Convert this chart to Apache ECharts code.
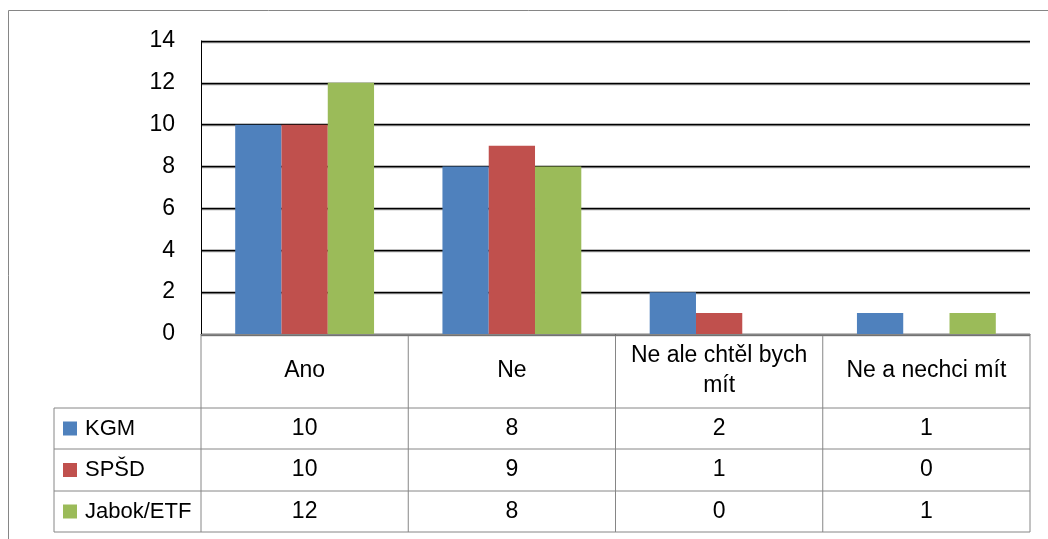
<!DOCTYPE html>
<html><head><meta charset="utf-8">
<script src="https://cdn.jsdelivr.net/npm/echarts@6/dist/echarts.min.js"></script>
<style>html,body{margin:0;padding:0;background:#fff}#c{width:1048px;height:539px}</style>
</head><body><div id="c"></div>
<script>
const categories = ['Ano', 'Ne', 'Ne ale chtěl bych\nmít', 'Ne a nechci mít'];
const seriesNames = ['KGM', 'SPŠD', 'Jabok/ETF'];
const kgm = [10, 8, 2, 1];
const spsd = [10, 9, 1, 0];
const jabok = [12, 8, 0, 1];
const yTicks = { min: 0, max: 14, interval: 2 };

const colors = ['#4F81BD', '#C0504D', '#9BBB59'];
const seriesData = [kgm, spsd, jabok];
const FONT = 'Liberation Sans';
const FS = 23;
const gridL = 201, gridR = 1030, gridT = 41, gridB = 334;
const rowLines = [408, 449, 491, 532];
const tableGray = '#868686';

const chart = echarts.init(document.getElementById('c'));

const xAxes = [{
  type: 'category', data: categories, gridIndex: 0, position: 'bottom',
  axisLine: { show: true, lineStyle: { color: tableGray, width: 1 } },
  axisTick: { show: false },
  axisLabel: { color: '#000', fontFamily: FONT, fontSize: FS, lineHeight: 30, margin: (rowLines[0] - gridB) / 2, verticalAlign: 'middle', interval: 0 },
  splitLine: { show: false }
}];
seriesData.forEach((vals, i) => {
  const center = (rowLines[i] + rowLines[i + 1]) / 2;
  xAxes.push({
    type: 'category', data: vals.map(String), gridIndex: 0, position: 'bottom',
    offset: center - gridB,
    axisLine: { show: false }, axisTick: { show: false },
    axisLabel: { color: '#000', fontFamily: FONT, fontSize: FS, margin: 0, verticalAlign: 'middle', interval: 0 }
  });
});

const graphics = [];
const line = (x1, y1, x2, y2) => graphics.push({ type: 'line', silent: true, shape: { x1, y1, x2, y2 }, style: { stroke: tableGray, lineWidth: 1 } });
rowLines.forEach(y => line(54, y, gridR, y));
line(54, rowLines[0], 54, rowLines[3]);
const cw = (gridR - gridL) / categories.length;
for (let i = 0; i <= categories.length; i++) {
  const x = gridL + cw * i;
  line(x, gridB, x, rowLines[3]);
}
graphics.push({ type: 'rect', silent: true, shape: { x: 8.5, y: 10.5, width: 1200, height: 700 }, style: { stroke: tableGray, fill: null, lineWidth: 1 } });

chart.setOption({
  animation: false,
  backgroundColor: '#fff',
  color: colors,
  grid: { left: gridL, right: 1048 - gridR, top: gridT, bottom: 539 - gridB, containLabel: false },
  legend: {
    orient: 'vertical', left: 63, top: 416.5, itemGap: 17.5, padding: 0,
    itemWidth: 14, itemHeight: 14, icon: 'rect',
    selectedMode: false,
    textStyle: { color: '#000', fontFamily: FONT, fontSize: 22, lineHeight: 24, padding: [0, 0, 0, 3] },
    data: seriesNames
  },
  xAxis: xAxes,
  yAxis: {
    type: 'value', min: yTicks.min, max: yTicks.max, interval: yTicks.interval,
    axisLine: { show: true, lineStyle: { color: '#000', width: 1 } },
    axisTick: { show: false },
    axisLabel: { color: '#000', fontFamily: FONT, fontSize: FS, margin: 26 },
    splitLine: { show: true, lineStyle: { color: '#000', width: 1.3, shadowColor: '#999', shadowOffsetY: 1 } }
  },
  series: seriesNames.map((n, i) => ({
    name: n, type: 'bar', data: seriesData[i], xAxisIndex: 0,
    barGap: '0%', barCategoryGap: '33%',
    itemStyle: { color: colors[i] }
  })),
  graphic: graphics
});
</script></body></html>
